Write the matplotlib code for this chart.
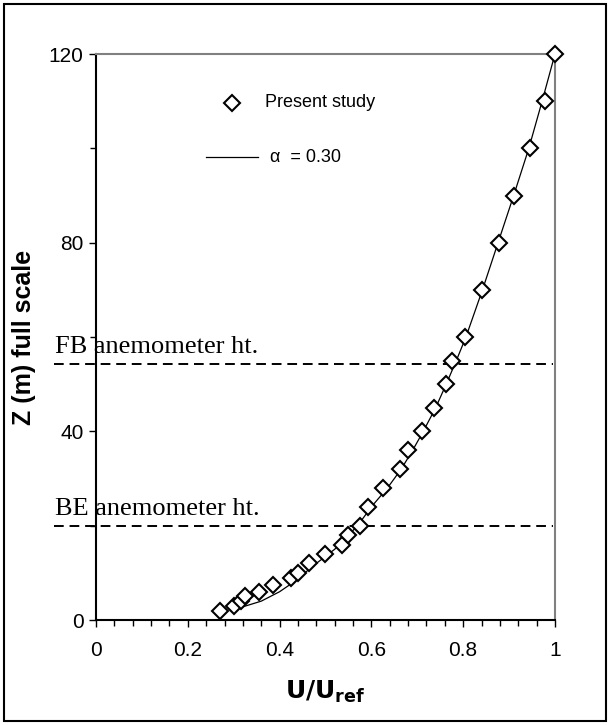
import matplotlib
matplotlib.use('Agg')
import matplotlib.pyplot as plt
from matplotlib.patches import Rectangle
from matplotlib.lines import Line2D

plt.rcParams['font.family'] = ['Liberation Sans', 'DejaVu Sans']

# measured profile (present study)
u_meas = [0.27, 0.30, 0.315, 0.325, 0.355, 0.385, 0.425, 0.44, 0.465, 0.50,
          0.535, 0.55, 0.575, 0.593, 0.625, 0.663, 0.68, 0.71, 0.737, 0.762,
          0.775, 0.805, 0.842, 0.877, 0.911, 0.946, 0.978, 1.0]
z_meas = [2, 3, 4, 5, 6, 7.5, 9, 10, 12, 14,
          16, 18, 20, 24, 28, 32, 36, 40, 45, 50,
          55, 60, 70, 80, 90, 100, 110, 120]

# power law curve, alpha = 0.30
u_law = [0.31, 0.36, 0.40, 0.43, 0.455, 0.48, 0.52, 0.55, 0.57, 0.60, 0.635,
         0.665, 0.69, 0.713, 0.74, 0.763, 0.785, 0.806, 0.842, 0.876, 0.91,
         0.943, 0.972, 1.0]
z_law = [2.5, 4, 6, 8, 10, 12, 15, 18, 20, 24, 28,
         32, 36, 40, 45, 50, 55, 60, 70, 80, 90,
         100, 110, 120]

# anemometer heights
z_fb = 54.3
z_be = 20

fig = plt.figure(figsize=(6.1, 7.25), dpi=100)
ax = fig.add_axes([0.1574, 0.1448, 0.7524, 0.7807])

ax.plot(u_law, z_law, color='black', lw=0.9, zorder=2)
ax.plot(u_meas, z_meas, ls='none', marker='D', ms=8, mfc='white',
        mec='black', mew=1.5, zorder=3, clip_on=False)

for z, txt in [(z_fb, 'FB anemometer ht.'), (z_be, 'BE anemometer ht.')]:
    ax.plot([-0.092, 0.995], [z, z], color='black', lw=1.4,
            ls=(0, (5, 3)), clip_on=False, zorder=1)
    ax.text(-0.09, z + 1.3, txt, family='Liberation Serif', fontsize=19,
            ha='left', va='bottom')

ax.set_xlim(0, 1)
ax.set_ylim(0, 120)
ax.set_xticks([0, 0.2, 0.4, 0.6, 0.8, 1.0])
ax.set_xticklabels(['0', '0.2', '0.4', '0.6', '0.8', '1'])
ax.set_xticks([i * 0.04 for i in range(26)], minor=True)
ax.set_yticks([0, 40, 80, 120])
ax.set_yticks([20, 60, 100], minor=True)
ax.tick_params(which='major', direction='out', length=5, width=1,
               labelsize=15)
ax.tick_params(axis='x', which='major', pad=10)
ax.tick_params(axis='y', which='major', pad=4)
ax.tick_params(which='minor', direction='out', length=4, width=1)

ax.spines['top'].set_color('#808080')
ax.spines['right'].set_color('#808080')
for s in ax.spines.values():
    s.set_linewidth(1.5)

ax.set_xlabel(r'$\mathbf{U/U_{ref}}$', fontsize=18, labelpad=14)
ax.set_ylabel('Z (m) full scale', fontsize=18, fontweight='bold')
ax.yaxis.set_label_coords(-0.13, 0.5)

# legend drawn by hand in axes coordinates
ax.plot([0.297], [0.9135], transform=ax.transAxes, marker='D', ms=8,
        mfc='white', mec='black', mew=1.5, clip_on=False)
ax.text(0.368, 0.9135, 'Present study', transform=ax.transAxes,
        fontsize=13, va='center')
ax.add_line(Line2D([0.240, 0.353], [0.818, 0.818], transform=ax.transAxes,
                   color='black', lw=0.9))
ax.text(0.38, 0.818, 'α  = 0.30', transform=ax.transAxes,
        fontsize=13, va='center')

fig.patches.append(Rectangle((0.006, 0.006), 0.988, 0.988,
                             transform=fig.transFigure, fill=False,
                             edgecolor='black', lw=1.5))

fig.savefig('out.png', dpi=100)
